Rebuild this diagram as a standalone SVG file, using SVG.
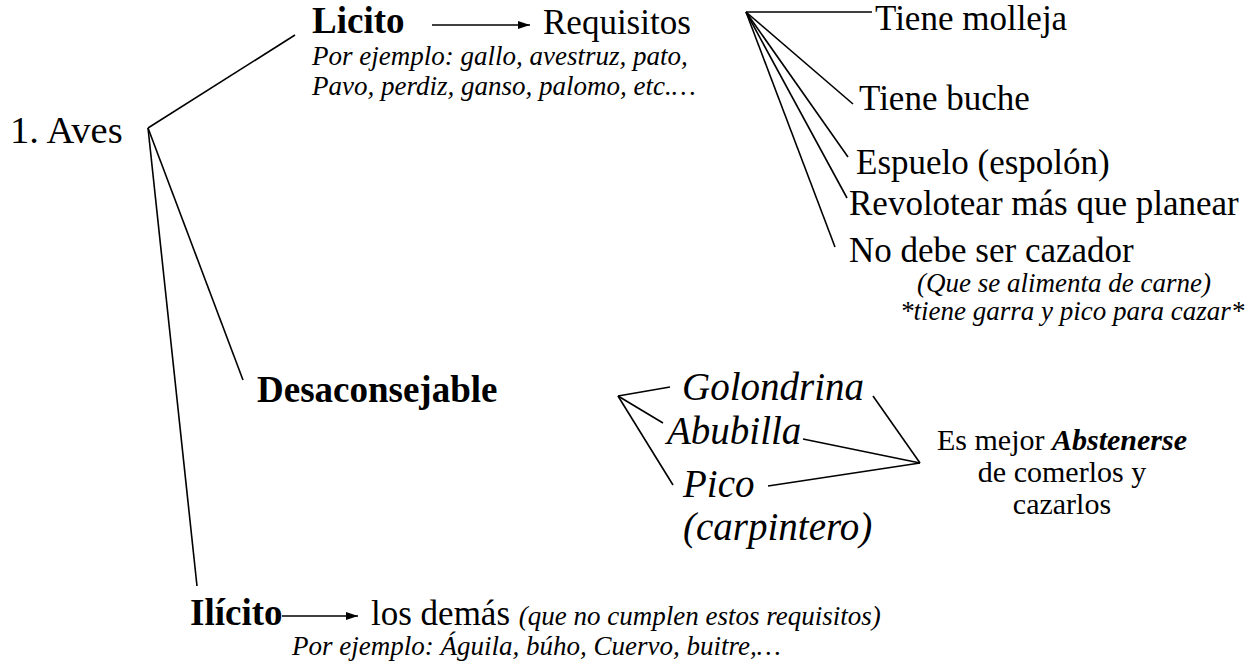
<svg xmlns="http://www.w3.org/2000/svg" width="1260" height="665" viewBox="0 0 1260 665" font-family="'Liberation Serif', Tinos, 'DejaVu Serif', 'Noto Serif', 'Times New Roman', serif">
<defs>
<style>
text{font-family:'Liberation Serif', Tinos, 'DejaVu Serif', 'Noto Serif', 'Times New Roman', serif;fill:#000}
.r{font-size:35px}
.b{font-size:37px;font-weight:bold}
.s{font-size:27px;font-style:italic}
.g{font-size:39px;font-style:italic}
.e{font-size:30px}
.c line{stroke:#000;stroke-width:1.6;fill:none}
</style>
<marker id="ah" viewBox="0 0 12 8" refX="12" refY="4" markerWidth="12" markerHeight="8" markerUnits="userSpaceOnUse" orient="auto">
<path d="M0,0 L12,4 L0,8 Z" fill="#000"/>
</marker>
</defs>
<rect width="1260" height="665" fill="#fff"/>
<g class="c" id="connectors">
<line x1="148" y1="128" x2="295" y2="35"/>
<line x1="148" y1="128" x2="243" y2="380"/>
<line x1="148" y1="128" x2="197" y2="586"/>
<line x1="432" y1="25" x2="530" y2="25" marker-end="url(#ah)"/>
<line x1="746" y1="12" x2="872" y2="12"/>
<line x1="746" y1="12" x2="853" y2="104"/>
<line x1="746" y1="12" x2="848" y2="157"/>
<line x1="746" y1="12" x2="847" y2="198"/>
<line x1="746" y1="12" x2="835" y2="247"/>
<line x1="618" y1="396" x2="670" y2="387"/>
<line x1="618" y1="396" x2="663" y2="423"/>
<line x1="618" y1="396" x2="673" y2="485"/>
<line x1="873" y1="396" x2="920" y2="463"/>
<line x1="803" y1="439" x2="920" y2="463"/>
<line x1="768" y1="486" x2="920" y2="463"/>
<line x1="282" y1="616" x2="358" y2="616" marker-end="url(#ah)"/>
</g>
<g id="aves"><text x="10" y="143" style="font-size:38.5px">1. Aves</text></g>
<g id="licito">
<text class="b" x="312" y="33">Licito</text>
<text class="s" x="312" y="65">Por ejemplo: gallo, avestruz, pato,</text>
<text class="s" x="312" y="95">Pavo, perdiz, ganso, palomo, etc.…</text>
</g>
<g id="requisitos"><text class="r" x="543" y="34">Requisitos</text></g>
<g id="molleja"><text class="r" x="875" y="30">Tiene molleja</text></g>
<g id="buche"><text class="r" x="859" y="110">Tiene buche</text></g>
<g id="espuelo"><text class="r" x="856" y="174">Espuelo (espolón)</text></g>
<g id="revolotear"><text class="r" x="849" y="215">Revolotear más que planear</text></g>
<g id="cazador">
<text class="r" x="849" y="262">No debe ser cazador</text>
<text class="s" x="917" y="292">(Que se alimenta de carne)</text>
<text class="s" x="900" y="320">*tiene garra y pico para cazar*</text>
</g>
<g id="desaconsejable"><text class="b" x="257" y="402">Desaconsejable</text></g>
<g id="golondrina"><text class="g" x="682" y="400">Golondrina</text></g>
<g id="abubilla"><text class="g" x="667" y="444">Abubilla</text></g>
<g id="pico"><text class="g" x="683" y="497">Pico</text><text class="g" x="683" y="540">(carpintero)</text></g>
<g id="abstenerse">
<text class="e" x="1062" y="450" text-anchor="middle">Es mejor <tspan font-weight="bold" font-style="italic">Abstenerse</tspan></text>
<text class="e" x="1062" y="482" text-anchor="middle">de comerlos y</text>
<text class="e" x="1062" y="514" text-anchor="middle">cazarlos</text>
</g>
<g id="ilicito">
<text class="b" x="190" y="625">Ilícito</text>
<text class="s" x="292" y="655">Por ejemplo: Águila, búho, Cuervo, buitre,…</text>
</g>
<g id="demas"><text class="r" x="371" y="625">los demás <tspan style="font-size:27px;font-style:italic">(que no cumplen estos requisitos)</tspan></text></g>
</svg>
